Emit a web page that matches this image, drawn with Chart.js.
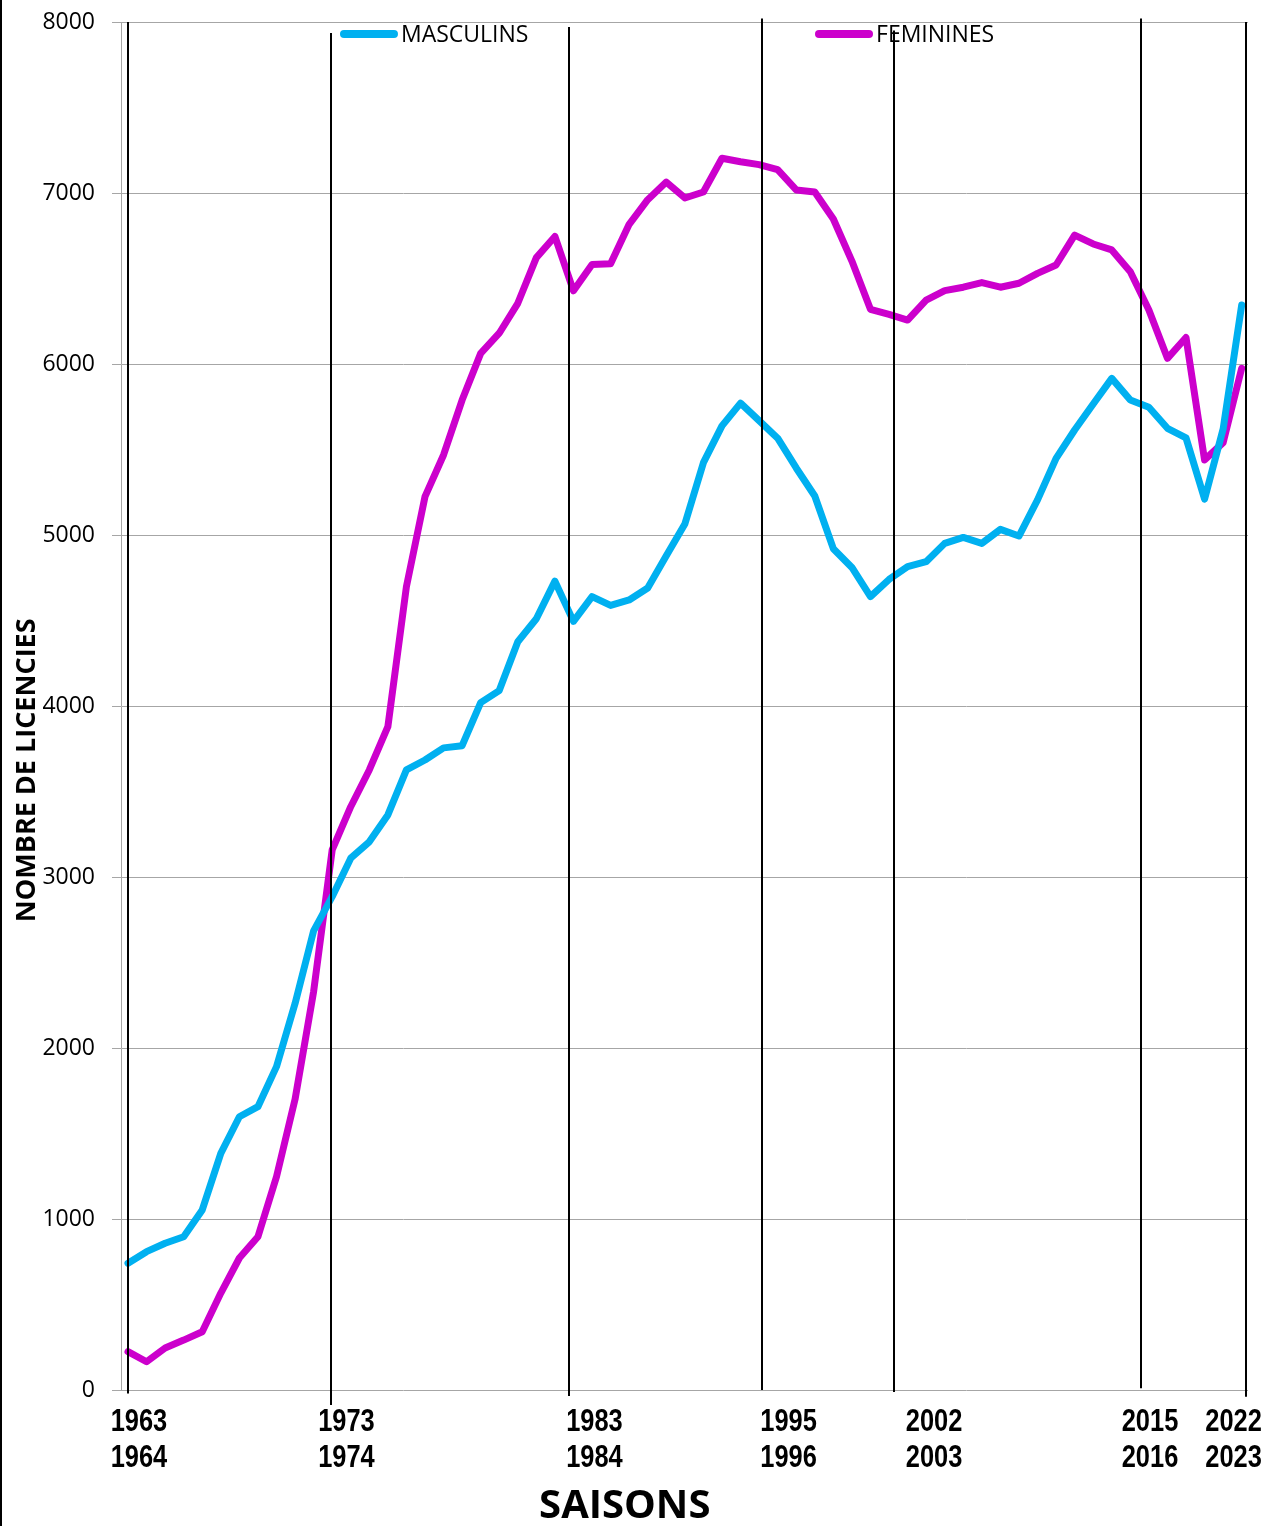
<!DOCTYPE html>
<html>
<head>
<meta charset="utf-8">
<script src="https://cdn.jsdelivr.net/npm/chart.js@4.4.1/dist/chart.umd.min.js"></script>
<style>
  html, body { margin: 0; padding: 0; background: #fff; }
  #wrap { width: 1266px; height: 1526px; position: relative; }
  canvas { display: block; }
</style>
</head>
<body>
<div id="wrap"><canvas id="c" width="1266" height="1526"></canvas></div>
<script>
// ---- Data ----
const firstSeasonYear = 1963;
const seasonCount = 61;
const seasons = [];
for (let k = 0; k < seasonCount; k++) seasons.push((firstSeasonYear + k) + '-' + (firstSeasonYear + k + 1));

const masculins = [
  741, 809, 858, 896, 1053, 1384, 1598, 1657, 1891, 2260,
  2685, 2885, 3110, 3206, 3363, 3626, 3684, 3755, 3768, 4020,
  4090, 4376, 4510, 4730, 4495, 4640, 4588, 4620, 4690, 4879,
  5064, 5423, 5638, 5771, 5669, 5566, 5392, 5228, 4920, 4810,
  4640, 4740, 4815, 4844, 4951, 4986, 4951, 5033, 4994, 5205,
  5448, 5614, 5766, 5916, 5789, 5747, 5624, 5568, 5210, 5620,
  6345
];
const feminines = [
  224, 165, 246, 292, 341, 567, 772, 896, 1247, 1700,
  2330, 3158, 3411, 3626, 3879, 4698, 5224, 5468, 5789, 6062,
  6180, 6355, 6622, 6746, 6428, 6582, 6586, 6817, 6961, 7064,
  6971, 7006, 7203, 7183, 7166, 7136, 7018, 7006, 6848, 6602,
  6320, 6290, 6257, 6374, 6429, 6449, 6476, 6449, 6472, 6530,
  6579, 6754, 6702, 6667, 6540, 6316, 6033, 6155, 5439, 5540,
  5975
];
const seriesNames = ['MASCULINS', 'FEMININES'];

// Season marker labels (two lines) and where the hand-drawn separators sit (season index units)
const markerLabels = [['1963','1964'], ['1973','1974'], ['1983','1984'], ['1995','1996'], ['2002','2003'], ['2015','2016'], ['2022','2023']];
const markerLineAt = [0, 10.94, 23.76, 34.16, 41.27, 54.58, 60.24];
const markerLabelAt = [0.59, 11.77, 25.13, 35.59, 43.43, 55.06, 59.56];
const markerTop = [8000, 7936, 7971, 8020, 7950, 8020, 8000];
const markerBottom = [-20, -88, -35, 0, -12, 10, -40];

const yTicksMax = 8000;
const yTickStep = 1000;

const xTitle = 'SAISONS';
const yTitle = 'NOMBRE DE LICENCIES';

// ---- Chart ----
const toPoints = arr => arr.map((v, i) => ({ x: i, y: v }));

const decorPlugin = {
  id: 'decor',
  beforeDraw(chart) {
    const ctx = chart.ctx;
    ctx.save();
    ctx.fillStyle = '#ffffff';
    ctx.fillRect(0, 0, chart.width, chart.height);
    ctx.fillStyle = '#000000';
    ctx.fillRect(0, 0, 2, chart.height);
    ctx.restore();
  },
  afterDatasetsDraw(chart) {
    const ctx = chart.ctx;
    const xs = chart.scales.x, ys = chart.scales.y;
    const area = chart.chartArea;
    ctx.save();
    // legend inside plot
    const legendX = [area.left + 0.1943 * area.width, area.left + 0.6158 * area.width];
    const legendY = area.top + 12;
    chart.data.datasets.forEach((ds, k) => {
      const x0 = legendX[k];
      ctx.strokeStyle = ds.borderColor;
      ctx.lineWidth = 8;
      ctx.lineCap = 'round';
      ctx.beginPath();
      ctx.moveTo(x0 + 4, legendY);
      ctx.lineTo(x0 + 54, legendY);
      ctx.stroke();
      ctx.fillStyle = '#000000';
      ctx.font = '23px "Open Sans", sans-serif';
      ctx.textAlign = 'left';
      ctx.textBaseline = 'middle';
      ctx.fillText(ds.label, x0 + 61, legendY + 1);
    });
    // vertical separators
    ctx.strokeStyle = '#000000';
    ctx.lineWidth = 2;
    ctx.lineCap = 'butt';
    markerLineAt.forEach((v, k) => {
      const x = Math.round(xs.getPixelForValue(v));
      ctx.beginPath();
      ctx.moveTo(x, ys.getPixelForValue(markerTop[k]));
      ctx.lineTo(x, ys.getPixelForValue(markerBottom[k]));
      ctx.stroke();
    });
    // season labels (narrow bold)
    ctx.fillStyle = '#000000';
    ctx.font = 'bold 31px "Liberation Sans", Arial, sans-serif';
    ctx.textAlign = 'center';
    ctx.textBaseline = 'middle';
    markerLabels.forEach((lines, k) => {
      const x = xs.getPixelForValue(markerLabelAt[k]);
      lines.forEach((t, j) => {
        ctx.save();
        ctx.translate(x, area.bottom + 32 + j * 36);
        ctx.scale(0.82, 1);
        ctx.fillText(t, 0, 0);
        ctx.restore();
      });
    });
    // axis titles
    ctx.fillStyle = '#000000';
    ctx.font = 'bold 40px "Open Sans", sans-serif';
    ctx.textAlign = 'center';
    ctx.textBaseline = 'middle';
    ctx.fillText(xTitle, area.left + 0.447 * area.width, area.bottom + 117);
    ctx.save();
    ctx.translate(27, area.top + 0.547 * area.height);
    ctx.rotate(-Math.PI / 2);
    ctx.font = 'bold 27px "Open Sans", sans-serif';
    ctx.fillText(yTitle, 0, 0);
    ctx.restore();
    ctx.restore();
  }
};

function makeChart() {
  new Chart(document.getElementById('c'), {
    type: 'line',
    data: {
      datasets: [
        { label: seriesNames[0], data: toPoints(masculins), borderColor: '#00B0F0', backgroundColor: '#00B0F0',
          borderWidth: 7, pointRadius: 0, tension: 0, borderJoinStyle: 'round', borderCapStyle: 'round', fill: false },
        { label: seriesNames[1], data: toPoints(feminines), borderColor: '#CC00CC', backgroundColor: '#CC00CC',
          borderWidth: 7, pointRadius: 0, tension: 0, borderJoinStyle: 'round', borderCapStyle: 'round', fill: false }
      ]
    },
    options: {
      responsive: false,
      animation: false,
      devicePixelRatio: 1,
      layout: { autoPadding: false, padding: { top: 22, right: 18, left: 0, bottom: 0 } },
      plugins: { legend: { display: false }, tooltip: { enabled: false }, title: { display: false } },
      scales: {
        x: {
          type: 'linear',
          min: -0.377,
          max: 60.34,
          ticks: { display: false },
          grid: { display: false, drawTicks: false },
          border: { display: false },
          afterFit(s) { s.height = 136; s.paddingLeft = 0; s.paddingRight = 0; }
        },
        y: {
          min: 0,
          max: yTicksMax,
          ticks: { stepSize: yTickStep, color: '#000000', padding: 17,
                   font: { family: '"Open Sans", sans-serif', size: 23 },
                   callback: v => String(v) },
          grid: { color: '#a6a6a6', lineWidth: 1, tickLength: 9, drawTicks: true },
          border: { display: true, color: '#a6a6a6', width: 1 },
          afterFit(s) { s.width = 121; s.paddingTop = 0; s.paddingBottom = 0; }
        }
      }
    },
    plugins: [decorPlugin]
  });
}

Promise.all([
  document.fonts.load('23px "Open Sans"'),
  document.fonts.load('bold 27px "Open Sans"'),
  document.fonts.load('bold 31px "Liberation Sans"')
]).then(makeChart, makeChart);
</script>
</body>
</html>
